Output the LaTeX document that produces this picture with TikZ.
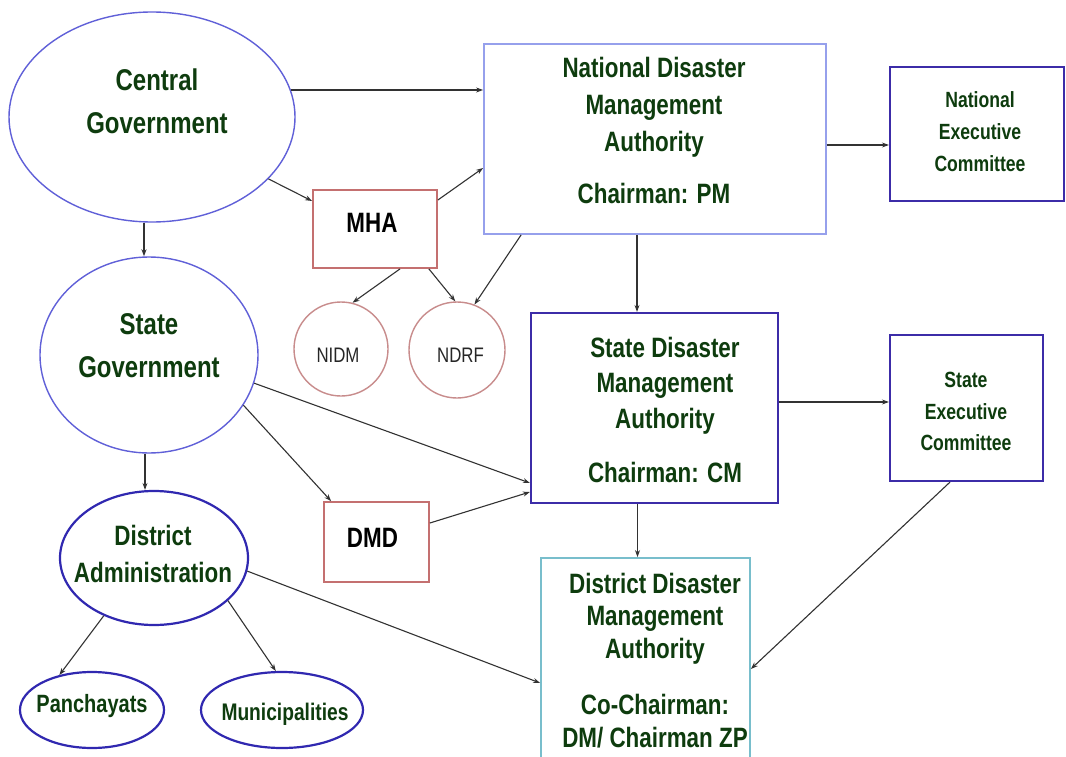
\documentclass[tikz,border=0pt]{standalone}
\usepackage{fontspec}
\newfontfamily\orgfont[FakeStretch=0.8]{Liberation Sans}
\usetikzlibrary{shapes.geometric,arrows.meta}

\definecolor{govblue}{RGB}{96,96,216}
\definecolor{locblue}{RGB}{48,40,176}
\definecolor{ndmablue}{RGB}{150,160,236}
\definecolor{authblue}{RGB}{60,44,168}
\definecolor{minred}{RGB}{196,112,112}
\definecolor{instred}{RGB}{200,140,140}
\definecolor{distcyan}{RGB}{120,190,204}
\definecolor{txtgreen}{RGB}{14,60,14}
\definecolor{linkgray}{RGB}{50,50,50}

\begin{document}
\begin{tikzpicture}[x=1pt,y=-1pt,
	govell/.style={ellipse,draw=govblue,line width=1.4pt},
	locell/.style={ellipse,draw=locblue,line width=2.2pt},
	authbox/.style={rectangle,draw=authblue,line width=2.2pt},
	minbox/.style={rectangle,draw=minred,line width=1.8pt},
	instcirc/.style={circle,draw=instred,line width=1.4pt},
	lbl/.style 2 args={align=center,inner sep=0pt,text=txtgreen,font=\orgfont\bfseries\fontsize{#1}{#2}\selectfont},
	link/.style={draw=linkgray,line width=1.1pt,-{Stealth[length=7pt,width=5pt]}}]
	\fill[white] (0,0) rectangle (1066,757);
	\useasboundingbox (0,0) rectangle (1066,757);

	% governments
	\node[govell,minimum width=286pt,minimum height=210pt] (cg) at (152,117) {};
	\node[lbl={30}{43}] (cg-t) at (157,101) {Central\\Government};
	\node[govell,minimum width=218pt,minimum height=196pt] (sg) at (149,355) {};
	\node[lbl={30}{43}] (sg-t) at (149,346) {State\\Government};
	\node[locell,minimum width=188pt,minimum height=134pt] (da) at (154,558) {};
	\node[lbl={28}{37}] (da-t) at (153,553.5) {District\\Administration};
	\node[locell,minimum width=144pt,minimum height=76pt] (pan) at (92,710) {};
	\node[lbl={25}{30},anchor=base] (pan-t) at (92,712) {Panchayats};
	\node[locell,minimum width=162pt,minimum height=76pt] (mun) at (282,710) {};
	\node[lbl={24}{30},anchor=base] (mun-t) at (285,720) {Municipalities};

	% ministry and institutes
	\node[minbox,minimum width=124pt,minimum height=78pt] (mha) at (375,229) {};
	\node[lbl={28}{34},text=black,anchor=base] (mha-t) at (372,233) {MHA};
	\node[minbox,minimum width=105pt,minimum height=80pt] (dmd) at (376.5,542) {};
	\node[lbl={28}{34},text=black,anchor=base] (dmd-t) at (372.5,547) {DMD};
	\node[instcirc,minimum size=94pt] (nidm) at (341,349) {};
	\node[inner sep=0pt,text=black!85,font=\orgfont\fontsize{21}{25}\selectfont,anchor=base] (nidm-t) at (338,362) {NIDM};
	\node[instcirc,minimum size=96pt] (ndrf) at (457,350) {};
	\node[inner sep=0pt,text=black!85,font=\orgfont\fontsize{21}{25}\selectfont,anchor=base] (ndrf-t) at (460.5,362) {NDRF};

	% authorities
	\node[rectangle,draw=ndmablue,line width=1.8pt,minimum width=342pt,minimum height=190pt] (ndma) at (655,139) {};
	\node[lbl={28}{37}] (ndma-t) at (654,130) {National Disaster\\Management\\Authority\\[15pt]Chairman: PM};
	\node[authbox,minimum width=174pt,minimum height=134pt] (nec) at (977,134) {};
	\node[lbl={22}{32}] (nec-t) at (980,132) {National\\Executive\\Committee};
	\node[authbox,minimum width=247pt,minimum height=190pt] (sdma) at (654.5,408) {};
	\node[lbl={28}{35.5}] (sdma-t) at (665,409.5) {State Disaster\\Management\\Authority\\[18.5pt]Chairman: CM};
	\node[authbox,minimum width=153pt,minimum height=146pt] (sec) at (966.5,408) {};
	\node[lbl={22}{31.5}] (sec-t) at (966,411.5) {State\\Executive\\Committee};
	\node[rectangle,draw=distcyan,line width=1.8pt,minimum width=209pt,minimum height=217pt] (ddma) at (645.5,666.5) {};
	\node[lbl={28}{32.5}] (ddma-t) at (655,660.5) {District Disaster\\Management\\Authority\\[24pt]Co-Chairman:\\DM/ Chairman ZP};

	% links
	\draw[link] (cg.11) -- (cg.11 -| ndma.west);
	\draw[link] (cg.-28) -- ([yshift=28pt]mha.west);
	\draw[link] ([yshift=29pt]mha.east) -- ([yshift=-29pt]ndma.west);
	\draw[link] ([xshift=-8pt]cg.south) -- ([xshift=-8pt]cg.south |- sg.north);
	\draw[link] ([xshift=25pt]mha.south) -- (nidm.76);
	\draw[link] ([xshift=-9pt]mha.south east) -- (ndrf.92);
	\draw[link] ([xshift=38pt]ndma.south west) -- (ndrf.69);
	\draw[link] ([yshift=-6pt]ndma.east) -- ([yshift=-6pt]ndma.east -| nec.west);
	\draw[link] ([xshift=-18pt]ndma.south) -- ([xshift=-18pt]ndma.south |- sdma.north);
	\draw[link] ([yshift=6pt]sdma.east) -- ([yshift=6pt]sdma.east -| sec.west);
	\draw[link] (sg.-15) -- ([yshift=-75pt]sdma.west);
	\draw[link] (sg.-28) -- ([xshift=8pt]dmd.north west);
	\draw[link] ([yshift=19pt]dmd.east) -- ([yshift=-84pt]sdma.west);
	\draw[link] ([xshift=-17pt]sdma.south) -- ([xshift=-17pt]sdma.south |- ddma.north);
	\draw[link] ([xshift=-4pt]sg.south) -- ([xshift=-4pt]sg.south |- da.north);
	\draw[link] (da.-8) -- ([yshift=-16.5pt]ddma.west);
	\draw[link] ([xshift=-16.5pt]sec.south) -- ([yshift=-2.5pt]ddma.east);
	\draw[link] (da.229) -- (pan.133);
	\draw[link] (da.-30) -- (mun.99);
\end{tikzpicture}
\end{document}
